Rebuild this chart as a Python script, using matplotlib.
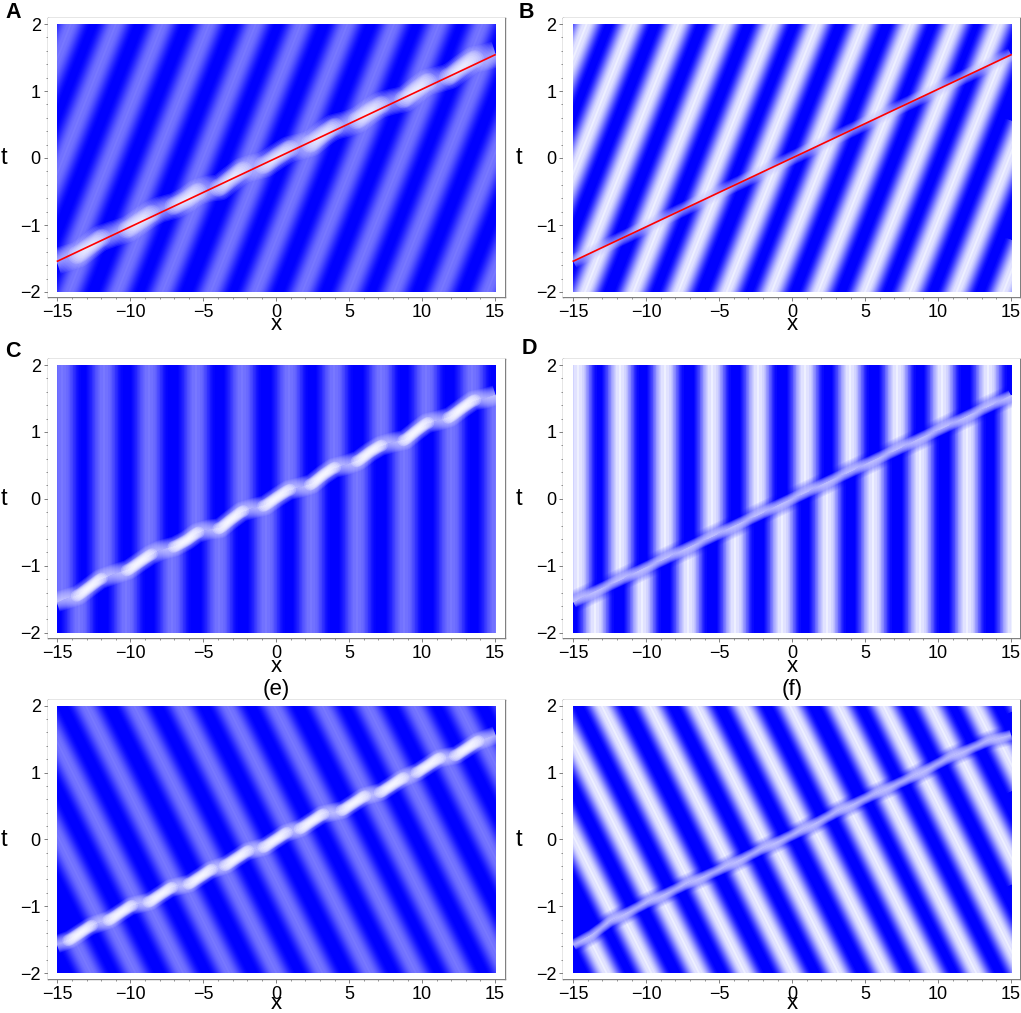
import numpy as np
import matplotlib
matplotlib.use('Agg')
import matplotlib.pyplot as plt
from matplotlib.patches import Polygon, Rectangle
from matplotlib.ticker import MultipleLocator

plt.rcParams['font.family'] = ['Liberation Sans', 'DejaVu Sans']

W, H = 1021, 1013

# stripe ridges: x where each one reaches t=2 (above the
# soliton) or t=-2 (below it), and how far x moves per unit of t
ab_upper_x = [-14.09, -11.0, -7.8, -4.6, -1.41, 1.68, 4.88, 8.08, 11.16, 14.13]
ab_lower_x = [-14.2, -10.89, -7.8, -4.49, -1.41, 1.79, 4.99, 8.08, 11.27, 14.47]
ab_tilt = 1.8
cd_upper_x = [-14.66, -11.8, -8.72, -5.52, -2.32, 0.88, 3.96, 7.16, 10.25, 13.44]
cd_lower_x = [-13.51, -10.32, -7.12, -3.92, -0.72, 2.36, 5.56, 8.76, 11.96, 15.04]
cd_tilt = 0.0
ef_upper_x = [-19.46, -16.26, -13.06, -9.75, -6.55, -3.35, -0.15, 3.16, 6.25, 9.45, 12.53, 15.73]
ef_lower_x = [-12.72, -9.65, -6.39, -3.23, 0.01, 3.16, 6.43, 9.58, 12.62, 15.77, 18.97, 22.17]
ef_tilt = -2.29

# soliton centre lines
line_x = [-15, 15]
line_t = [-1.54, 1.54]
c_wave_x = [-15.05, -13.56, -12.76, -12.08, -11.16, -10.13, -9.33, -8.65, -7.96, -6.93, -6.14, -5.45, -4.65,
            -3.85, -3.17, -2.37, -1.57, -0.77, 0.03, 0.83, 1.63, 2.43, 3.23, 3.92, 4.83, 5.63, 6.43, 7.12,
            7.92, 8.83, 9.63, 10.31, 11.11, 11.91, 12.71, 13.51, 14.31, 15.04]
c_wave_t = [-1.54, -1.44, -1.31, -1.20, -1.13, -1.06, -0.94, -0.84, -0.77, -0.71, -0.62, -0.51, -0.46,
            -0.44, -0.32, -0.19, -0.14, -0.10, 0.02, 0.13, 0.17, 0.22, 0.36, 0.46, 0.51, 0.57, 0.70, 0.79,
            0.84, 0.88, 1.02, 1.13, 1.17, 1.22, 1.35, 1.47, 1.50, 1.55]
c_lobe_x0 = [-13.56, -10.13, -6.93, -3.85, -0.77, 2.43, 5.63, 8.83, 11.91]
c_lobe_x1 = [-12.08, -8.65, -5.45, -2.37, 0.83, 3.92, 7.12, 10.31, 13.51]
e_wave_x = [-15.05, -14.15, -13.45, -12.75, -11.4, -10.7, -10.0, -8.66, -7.96, -7.26, -5.92, -5.22, -4.52,
            -3.41, -2.71, -2.01, -0.78, -0.08, 0.62, 1.73, 2.43, 3.13, 4.59, 5.29, 5.99, 7.22, 7.92, 8.62,
            9.73, 10.43, 11.13, 12.36, 13.06, 13.76, 15.04]
e_wave_t = [-1.57, -1.50, -1.40, -1.30, -1.20, -1.10, -1.0, -0.93, -0.83, -0.73, -0.66, -0.56, -0.46,
            -0.38, -0.28, -0.18, -0.11, -0.01, 0.09, 0.17, 0.27, 0.37, 0.44, 0.54, 0.64, 0.71, 0.81, 0.91,
            1.01, 1.11, 1.21, 1.26, 1.36, 1.46, 1.56]
e_lobe_x0 = [-14.15, -11.4, -8.66, -5.92, -3.41, -0.78, 1.73, 4.59, 7.22, 9.73, 12.36]
e_lobe_x1 = [-12.75, -10.0, -7.26, -4.52, -2.01, 0.62, 3.13, 5.99, 8.62, 11.13, 13.76]
f_wave_x = [-15, -13.74, -12.49, -9.97, -7.35, -4.72, -2.21, 0.54, 3.16, 5.79, 8.30, 10.93, 13.56, 15]
f_wave_t = [-1.58, -1.43, -1.23, -0.95, -0.68, -0.43, -0.16, 0.12, 0.42, 0.69, 0.94, 1.24, 1.48, 1.56]

# tick labels and panel captions
x_ticks = [-15, -10, -5, 0, 5, 10, 15]
t_ticks = [-2, -1, 0, 1, 2]
panel_letters = ['A', 'B', 'C', 'D']

BLUE = np.array([0, 0, 255]) / 255
PALE = '#7878ff'
LIGHT = '#eef0ff'
GREY = '#808080'
X_EDGE, T_EDGE = 15.05, 2.0
# clip shapes stop here, inside the axes; the white margin hides the rest
X_CLIP, T_CLIP = 15.4, 2.05

fig = plt.figure(figsize=(W / 100, H / 100), dpi=100)


def stroke(ax, x, t, width, peak, clip):
    # stripe as nested opaque strokes, blue at the rim and peak colour on the ridge
    peak = np.array(matplotlib.colors.to_rgb(peak))
    for f in np.linspace(0.04, 1, 18):
        w = width * (np.arccos(2 * f - 1) / np.pi + 0.05)
        ax.plot(x, t, color=BLUE * (1 - f) + peak * f, lw=w * 0.72, solid_capstyle='butt',
                clip_path=clip, zorder=2)


def glow(ax, x, t, width, colour, alpha, n=10):
    # soft band over the stripes, built from see-through strokes
    for w in np.linspace(width, width * 0.12, n):
        ax.plot(x, t, color=colour, lw=w * 0.72, alpha=alpha, solid_capstyle='butt',
                solid_joinstyle='round', zorder=3)


def lobes(ax, wave_x, wave_t, x0, x1, width, alpha=0.17):
    # bright spots on the soliton, each layer shorter and thinner than the last
    for a, b in zip(x0, x1):
        mid = (a + b) / 2
        half = (b - a) / 2
        for w, fr in zip(np.linspace(width, width * 0.15, 10), np.linspace(1.15, 0.3, 10)):
            xs = np.linspace(mid - half * fr, mid + half * fr, 8)
            ax.plot(xs, np.interp(xs, wave_x, wave_t), color='white', lw=w * 0.72, alpha=alpha,
                    solid_capstyle='round', zorder=3)


def make_axes(frame, x_px, t_px):
    left, right, top, bottom = frame
    ax = fig.add_axes([left / W, 1 - bottom / H, (right - left) / W, (bottom - top) / H])
    sx = (x_px[1] - x_px[0]) / 30
    st = (t_px[1] - t_px[0]) / 4
    ax.set_xlim(-15 - (x_px[0] - left) / sx, 15 + (right - x_px[1]) / sx)
    ax.set_ylim(-2 - (bottom - t_px[1]) / st, 2 + (t_px[0] - top) / st)
    ax.set_xticks(x_ticks)
    ax.set_yticks(t_ticks)
    ax.xaxis.set_minor_locator(MultipleLocator(1))
    ax.yaxis.set_minor_locator(MultipleLocator(0.2))
    ax.tick_params(which='major', length=3, width=0.7, color=GREY, labelsize=13, pad=2)
    ax.tick_params(which='minor', length=1.7, width=0.6, color=GREY)
    for s in ax.spines.values():
        s.set_color(GREY)
        s.set_linewidth(1.0)
    # white margin between the frame and the density image
    for xy, w, h in [((-X_EDGE, T_EDGE), 2 * X_EDGE, 1), ((-X_EDGE, -T_EDGE - 1), 2 * X_EDGE, 1),
                     ((-X_EDGE - 2, -4), 2, 8), ((X_EDGE, -4), 2, 8)]:
        ax.add_patch(Rectangle(xy, w, h, color='white', lw=0, zorder=4))
    return ax


def draw_panel(ax, upper_x, lower_x, tilt, peak, width, wave_x, wave_t):
    ax.add_patch(Rectangle((-X_CLIP, -T_CLIP), 2 * X_CLIP, 2 * T_CLIP, color=BLUE, lw=0, zorder=1))
    wx = np.array(wave_x)
    wt = np.array(wave_t)
    edge_x = np.r_[-X_CLIP, wx, X_CLIP, X_CLIP, -X_CLIP]
    top = np.column_stack([edge_x, np.r_[wt[0], wt, wt[-1], T_CLIP, T_CLIP]])
    bot = np.column_stack([edge_x, np.r_[wt[0], wt, wt[-1], -T_CLIP, -T_CLIP]])
    clip_up = Polygon(top, transform=ax.transData)
    clip_low = Polygon(bot, transform=ax.transData)
    for x2 in upper_x:
        stroke(ax, [x2 + tilt * 0.3, x2 - tilt * 4.6], [2.3, -2.6], width, peak, clip_up)
    for x2 in lower_x:
        stroke(ax, [x2 - tilt * 0.3, x2 + tilt * 4.6], [-2.3, 2.6], width, peak, clip_low)


# A
ax = make_axes((47.7, 504.5, 18.3, 296.7), (57.5, 495), (24, 292))
draw_panel(ax, ab_upper_x, ab_lower_x, ab_tilt, PALE, 38, line_x, line_t)
glow(ax, c_wave_x, c_wave_t, 26, '#d0d0ff', 0.12)
lobes(ax, c_wave_x, c_wave_t, c_lobe_x0, c_lobe_x1, 18, 0.13)
ax.plot(line_x, line_t, color='#ff0000', lw=1.2, zorder=5)

# B
ax = make_axes((563.3, 1020, 18.3, 296.7), (573.3, 1011), (24, 292))
draw_panel(ax, ab_upper_x, ab_lower_x, ab_tilt, LIGHT, 38, line_x, line_t)
glow(ax, line_x, line_t, 14, '#c8c8ff', 0.1)
ax.plot(line_x, line_t, color='#ff0000', lw=1.2, zorder=5)

# C
ax = make_axes((47.7, 504.5, 359, 637.7), (57.5, 495), (365, 632.7))
draw_panel(ax, cd_upper_x, cd_lower_x, cd_tilt, PALE, 40, c_wave_x, c_wave_t)
glow(ax, c_wave_x, c_wave_t, 20, '#d8d8ff', 0.13)
lobes(ax, c_wave_x, c_wave_t, c_lobe_x0, c_lobe_x1, 12, 0.22)

# D
ax = make_axes((563.3, 1020, 359, 637.7), (573.3, 1011), (365, 632.7))
draw_panel(ax, cd_upper_x, cd_lower_x, cd_tilt, LIGHT, 40, line_x, line_t)
glow(ax, line_x, line_t, 22, BLUE, 0.07)
glow(ax, line_x, line_t, 12, '#d8d8ff', 0.14)

# E
ax = make_axes((47.7, 504.5, 699.7, 978.7), (57.5, 495), (705.7, 973))
draw_panel(ax, ef_upper_x, ef_lower_x, ef_tilt, PALE, 36, e_wave_x, e_wave_t)
glow(ax, e_wave_x, e_wave_t, 18, '#d8d8ff', 0.13)
lobes(ax, e_wave_x, e_wave_t, e_lobe_x0, e_lobe_x1, 12, 0.22)

# F
ax = make_axes((563.3, 1020, 699.7, 978.7), (573.3, 1011), (705.7, 973))
draw_panel(ax, ef_upper_x, ef_lower_x, ef_tilt, LIGHT, 36, f_wave_x, f_wave_t)
glow(ax, f_wave_x, f_wave_t, 20, BLUE, 0.07)
glow(ax, f_wave_x, f_wave_t, 11, '#d8d8ff', 0.14)


def label(px, py, s, **kw):
    fig.text(px / W, 1 - py / H, s, ha='center', va='center', **kw)


# axis names and captions sit outside the axes, placed by pixel
for cx, tx in [(276, 4), (792, 519)]:
    for xy, ty in [(325, 158), (666, 499), (1003, 840)]:
        label(cx, xy, 'x', fontsize=16)
        label(tx, ty, 't', fontsize=17)
for (px, py), s in zip([(13, 13), (526, 12), (13, 351), (529, 349)], panel_letters):
    label(px, py, s, fontsize=15.5, fontweight='bold')
label(276, 689, '(e)', fontsize=16)
label(792, 689, '(f)', fontsize=16)

fig.savefig('out.png', dpi=100)
